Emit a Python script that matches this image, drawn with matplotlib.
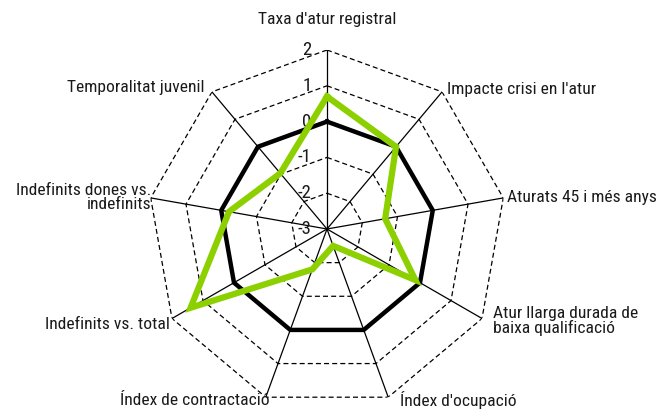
import numpy as np
import matplotlib
matplotlib.use("Agg")
import matplotlib.pyplot as plt
from matplotlib import font_manager

# ---- data ----
labels = ["Taxa d'atur registral", "Impacte crisi en l'atur", "Aturats 45 i més anys",
          "Atur llarga durada de\nbaixa qualificació", "Índex d'ocupació",
          "Índex de contractació", "Indefinits vs. total",
          "Indefinits dones vs.\nindefinits", "Temporalitat juvenil"]
reference = [0, 0, 0, 0, 0, 0, 0, 0, 0]
values = [0.7, 0.0, -1.35, -0.15, -2.5, -1.8, 1.4, -0.22, -0.97]
levels = [-3, -2, -1, 0, 1, 2]

# label offsets (points) from the outer vertex, and alignment
offsets = [(0, 22), (3.5, 2), (3, 0.5), (8, -2), (8.5, -2.3), (3, -2.3), (-1.5, -4.5), (0.5, 0.5), (-5, 3)]
aligns = ["center", "left", "left", "left", "left", "right", "right", "right", "right"]

names = {f.name for f in font_manager.fontManager.ttflist}
fam = "DejaVu Sans"
for cand in ["Roboto Condensed", "Barlow Condensed", "Archivo Narrow"]:
    if cand in names:
        fam = cand
        break
plt.rcParams["font.family"] = [fam, "DejaVu Sans"]

n = len(labels)
theta = np.arange(n) * 2 * np.pi / n
theta_c = np.append(theta, theta[0])

fig = plt.figure(figsize=(6.57, 4.09), dpi=100)
cx, cy, R = 327, 229, 179
ax = fig.add_axes([(cx - R) / 657, (409 - cy - R) / 409, 2 * R / 657, 2 * R / 409], projection="polar")
ax.set_theta_zero_location("N")
ax.set_theta_direction(-1)
ax.set_ylim(-3, 2)
ax.grid(False)
ax.set_xticks([])
ax.set_yticks([])
ax.spines["polar"].set_visible(False)
ax.patch.set_visible(False)

# spokes
for t in theta:
    ax.plot([t, t], [-3, 2], color="black", lw=0.9, zorder=1)

# dashed rings
for lv in levels[1:]:
    ax.plot(theta_c, [lv] * (n + 1), color="black", lw=0.9, ls=(0, (4, 2.5)), zorder=1)

# series
ax.plot(theta_c, reference + reference[:1], color="black", lw=3.2, zorder=3, solid_joinstyle="miter")
ax.plot(theta_c, values + values[:1], color="#8cd000", lw=4.5, zorder=4, solid_joinstyle="miter")

# radial tick labels
for lv in levels:
    ax.annotate(str(lv), xy=(0, lv), xytext=(-11, 0), textcoords="offset points",
                ha="right", va="center", fontsize=13.5, color="#1a1a1a")

# category labels
for t, lab, off, ha in zip(theta, labels, offsets, aligns):
    ax.annotate(lab, xy=(t, 2), xytext=off, textcoords="offset points",
                ha=ha, va="center", multialignment=ha if ha != "center" else "center",
                fontsize=12.6, color="#1a1a1a", linespacing=0.95, annotation_clip=False)

fig.savefig("out.png", dpi=100)
